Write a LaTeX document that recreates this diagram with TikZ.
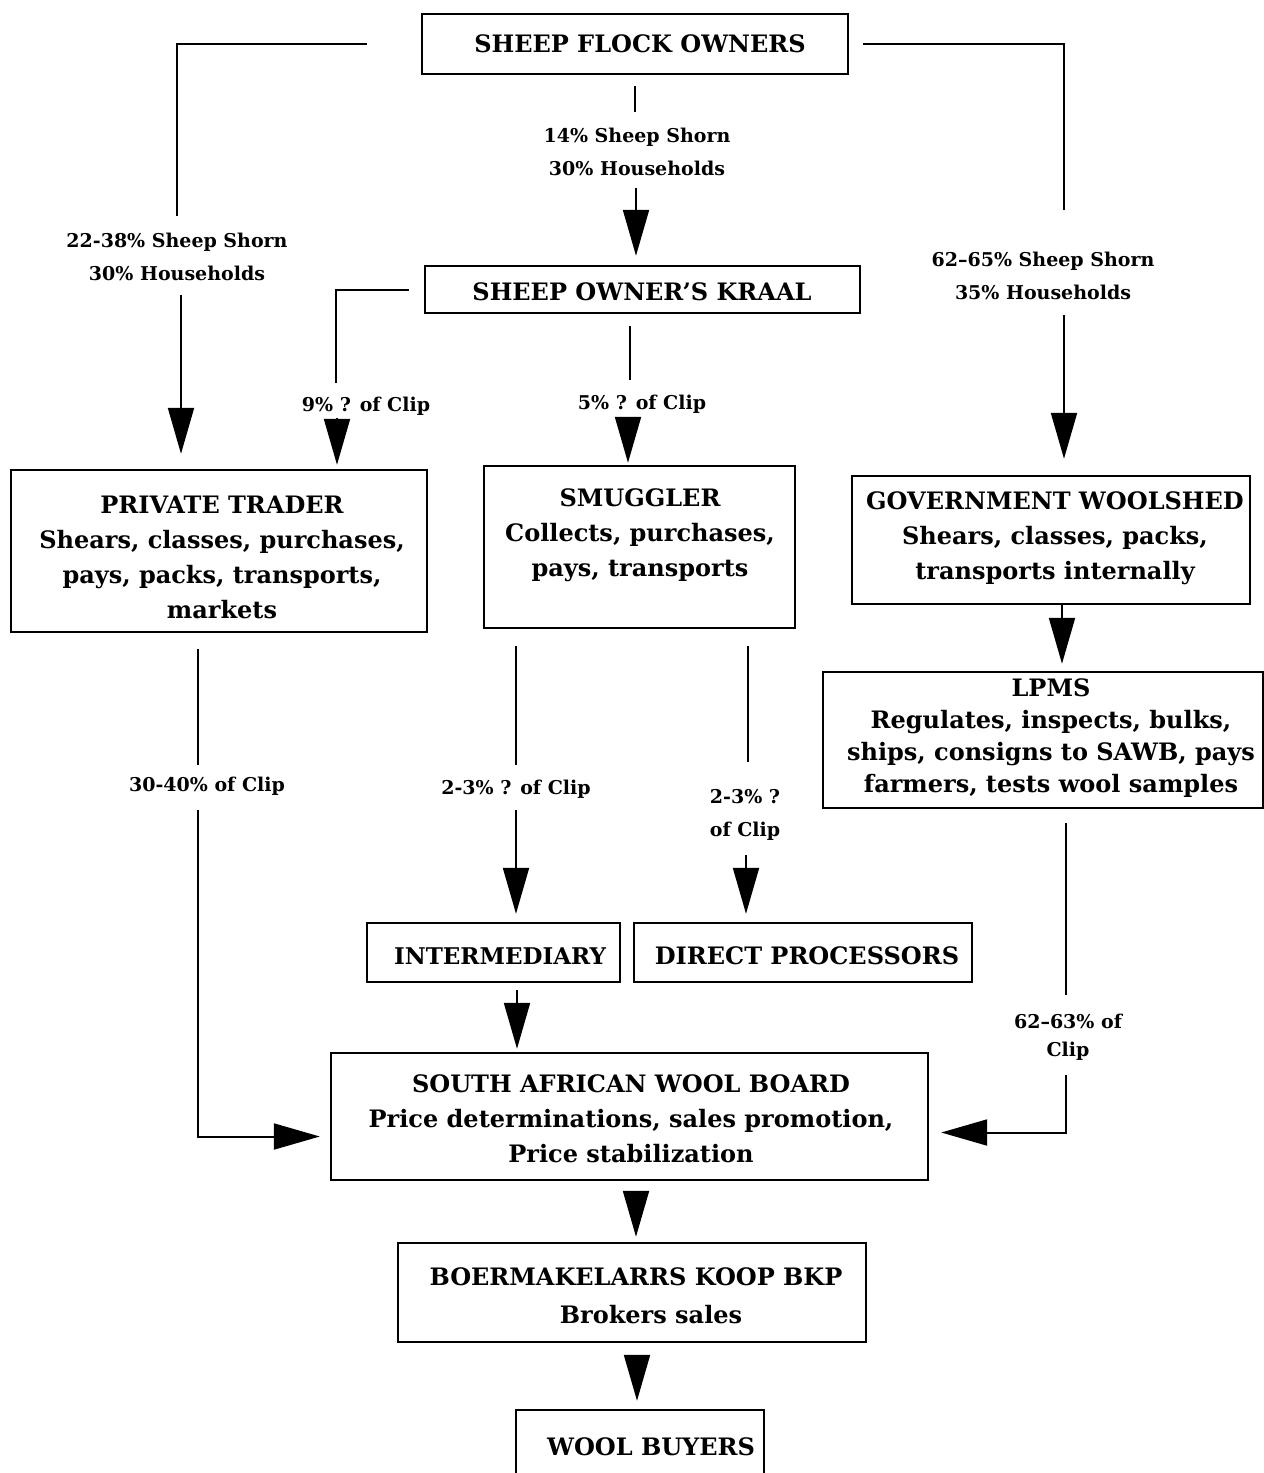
\documentclass[tikz,border=0pt]{standalone}
\usepackage{fontspec}
\setmainfont{DejaVu Serif}
\usetikzlibrary{arrows.meta}
\begin{document}
\begin{tikzpicture}[x=1pt,y=-1pt,
  box/.style={draw, line width=2.4pt, inner sep=0pt},
  btxt/.style={font=\bfseries\fontsize{24}{35}\selectfont, align=center, inner sep=0pt},
  lab/.style={font=\bfseries\fontsize{19}{33}\selectfont, align=center, inner sep=0pt},
  con/.style={line width=2pt},
  arr/.style={con, -{Triangle[width=26pt,length=46pt]}},
]
\useasboundingbox (0,0) rectangle (1264,1473);

% boxes
\node[box, minimum width=426pt, minimum height=60pt] (sfo) at (635,44) {};
\node[btxt] (sfot) at (640,44) {SHEEP FLOCK OWNERS};
\node[box, minimum width=435pt, minimum height=47pt] (kraal) at (642.5,289.5) {};
\node[btxt] (kraalt) at (642,292) {SHEEP OWNER'S KRAAL};
\node[box, minimum width=416pt, minimum height=162pt] (pt) at (219,551) {};
\node[btxt] (ptt) at (222,557) {PRIVATE TRADER\\Shears, classes, purchases,\\pays, packs, transports,\\markets};
\node[box, minimum width=311pt, minimum height=162pt] (smug) at (639.5,547) {};
\node[btxt] (smugt) at (640,535) {SMUGGLER\\Collects, purchases,\\pays, transports};
\node[box, minimum width=398pt, minimum height=128pt] (gov) at (1051,540) {};
\node[btxt] (govt) at (1055,538) {GOVERNMENT WOOLSHED\\Shears, classes, packs,\\transports internally};
\node[box, minimum width=440pt, minimum height=136pt] (lpms) at (1043,740) {};
\node[btxt, font=\bfseries\fontsize{24}{32}\selectfont] (lpmst) at (1051,738) {LPMS\\Regulates, inspects, bulks,\\ships, consigns to SAWB, pays\\farmers, tests wool samples};
\node[box, minimum width=253pt, minimum height=59pt] (inter) at (493.5,952.5) {};
\node[btxt, font=\bfseries\fontsize{23}{35}\selectfont] (intert) at (500,956) {INTERMEDIARY};
\node[box, minimum width=338pt, minimum height=59pt] (dp) at (803,952.5) {};
\node[btxt] (dpt) at (807,956) {DIRECT PROCESSORS};
\node[box, minimum width=597pt, minimum height=127pt] (sawb) at (629.5,1116.5) {};
\node[btxt] (sawbt) at (631,1119) {SOUTH AFRICAN WOOL BOARD\\Price determinations, sales promotion,\\Price stabilization};
\node[box, minimum width=468pt, minimum height=99pt] (bkp) at (632,1292.5) {};
\node[btxt, font=\bfseries\fontsize{24}{38}\selectfont] (bkpt) at (636,1296) {BOERMAKELARRS KOOP BKP\\\hspace*{30pt}Brokers sales};
\node[box, minimum width=248pt, minimum height=70pt] (wb) at (640,1445) {};
\node[btxt] (wbt) at (651,1447) {WOOL BUYERS};

% labels
\node[lab] (l1) at (177,257) {22-38\% Sheep Shorn\\30\% Households};
\node[lab] (l2) at (637,152) {14\% Sheep Shorn\\30\% Households};
\node[lab] (l3) at (1043,276) {62--65\% Sheep Shorn\\35\% Households};
\node[lab] (l4) at (366,406) {9\% ? of Clip};
\node[lab] (l5) at (642,404) {5\% ? of Clip};
\node[lab] (l6) at (207,786) {30-40\% of Clip};
\node[lab] (l7) at (516,789) {2-3\% ? of Clip};
\node[lab] (l8) at (745,815) {2-3\% ?\\of Clip};
\node[lab, font=\bfseries\fontsize{19}{28}\selectfont] (l9) at (1068,1037) {62--63\% of\\Clip};

% coordinates for free ends around the labels
\coordinate (cL1) at (177,216);
\coordinate (cL2) at (181,295);
\coordinate (cC1) at (635,112);
\coordinate (cC2) at (636,188);
\coordinate (cR1) at (1064,210);
\coordinate (cR2) at (1064,315);
\coordinate (cK1) at (336,383);
\coordinate (cK2) at (337,418);
\coordinate (cK3) at (630,380);
\coordinate (cK4) at (628,418);
\coordinate (cP1) at (198,765);
\coordinate (cP2) at (198,810);
\coordinate (cS1) at (516,765);
\coordinate (cS2) at (516,810);
\coordinate (cS3) at (748,762);
\coordinate (cS4) at (746,855);
\coordinate (cG)  at (1062,604);
\coordinate (cM1) at (1066,995);
\coordinate (cM2) at (1066,1075);
\coordinate (cI)  at (517,990);
\coordinate (cB1) at (636,1192);
\coordinate (cB2) at (637,1357);

% connectors
\draw[con, shorten <=54pt] (sfo.west) -| (cL1);
\draw[arr, shorten >=15pt] (cL2) -- (cL2 |- pt.north);
\draw[con, shorten <=11pt] (sfo.south) -- (cC1);
\draw[arr, shorten >=9pt] (cC2) -- (cC2 |- kraal.north);
\draw[con, shorten <=14pt] (sfo.east) -| (cR1);
\draw[arr, shorten >=16pt] (cR2) -- (cR2 |- gov.north);
\draw[con, shorten <=15pt] (kraal.west) -| (cK1);
\draw[arr, shorten >=4pt] (cK2) -- (cK2 |- pt.north);
\draw[con, shorten <=12pt] (cK3 |- kraal.south) -- (cK3);
\draw[arr, shorten >=2pt] (cK4) -- (cK4 |- smug.north);
\draw[con, shorten <=16pt] (cP1 |- pt.south) -- (cP1);
\draw[arr, shorten >=10pt] (cP2) |- ([yshift=-20pt]sawb.west);
\draw[con, shorten <=17pt] (cS1 |- smug.south) -- (cS1);
\draw[arr, shorten >=8pt] (cS2) -- (cS2 |- inter.north);
\draw[con, shorten <=17pt] (cS3 |- smug.south) -- (cS3);
\draw[arr, shorten >=8pt] (cS4) -- (cS4 |- dp.north);
\draw[arr, shorten >=7pt] (cG) -- (cG |- lpms.north);
\draw[con, shorten <=14pt] (cM1 |- lpms.south) -- (cM1);
\draw[arr, shorten >=12pt] (cM2) |- ([yshift=-16pt]sawb.east);
\draw[arr, shorten >=3pt] (cI) -- (cI |- sawb.north);
\draw[arr, shorten >=5pt] (cB1) -- (cB1 |- bkp.north);
\draw[arr, shorten >=8pt] (cB2) -- (cB2 |- wb.north);
\end{tikzpicture}
\end{document}
